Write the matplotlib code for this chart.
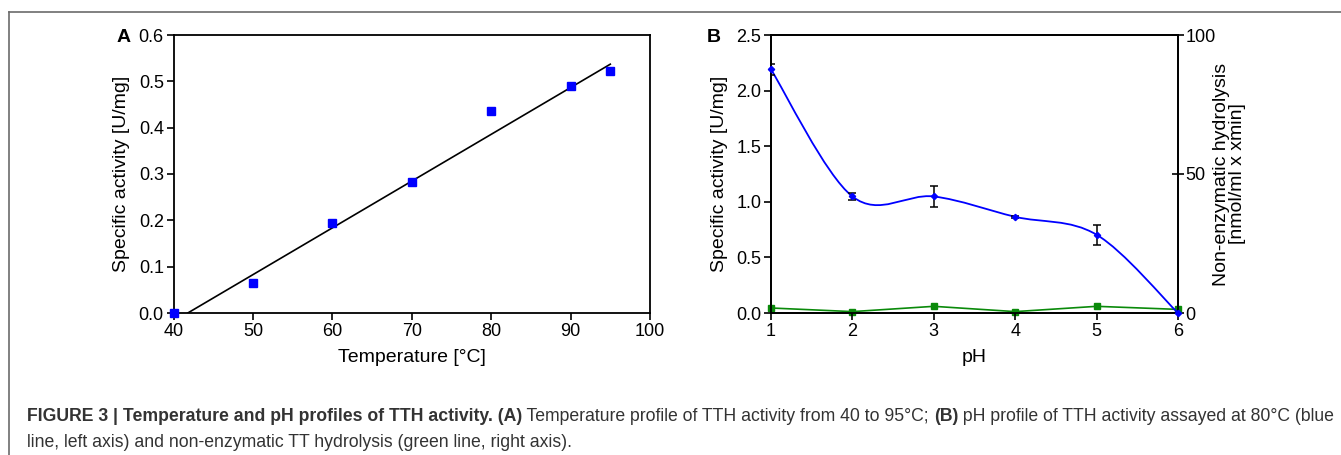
import matplotlib
matplotlib.use("Agg")
import matplotlib.pyplot as plt
from matplotlib.path import Path
from matplotlib.patches import PathPatch
from matplotlib.lines import Line2D
import numpy as np

# ---------------- data ----------------
temp_c = [40, 50, 60, 70, 80, 90, 95]
temp_activity = [0.0, 0.064, 0.195, 0.283, 0.436, 0.489, 0.523]
fit_x = [41.8, 95.0]
fit_y = [0.0, 0.537]

ph = [1, 2, 3, 4, 5, 6]
ph_activity = [2.19, 1.048, 1.048, 0.865, 0.704, 0.0]
ph_err = [0.05, 0.03, 0.095, 0.01, 0.09, 0.0]
nonenz = [1.8, 0.5, 2.4, 0.5, 2.4, 1.3]

a_xticks = [40, 50, 60, 70, 80, 90, 100]
a_yticks = [0.0, 0.1, 0.2, 0.3, 0.4, 0.5, 0.6]
b_yticks = [0.0, 0.5, 1.0, 1.5, 2.0, 2.5]
b_y2ticks = [0, 50, 100]

W, H = 1341, 455
fig = plt.figure(figsize=(W / 100, H / 100), dpi=100)
plt.rcParams['font.family'] = ['Liberation Sans', 'DejaVu Sans']

def ax_rect(l, r, t, b):
    return [l / W, (H - b) / H, (r - l) / W, (b - t) / H]

TFS = 13.0   # tick labels
LFS = 14.0   # axis labels
BLUE = '#0000ff'
GREEN = '#0a8a0a'

# ---------------- panel A ----------------
axA = fig.add_axes(ax_rect(173.5, 650, 35, 313))
axA.plot(fit_x, fit_y, color='black', lw=1.2, zorder=2)
axA.plot(temp_c, temp_activity, linestyle='none', marker='s', ms=5.5,
         color=BLUE, mec=BLUE, zorder=3, clip_on=False)
axA.set_xlim(40, 100)
axA.set_ylim(0, 0.6)
axA.set_xticks(a_xticks)
axA.set_yticks(a_yticks)
axA.set_yticklabels([f"{v:.1f}" for v in a_yticks])
axA.tick_params(direction='out', length=5, width=1.2, labelsize=TFS, pad=2,
                top=False, right=False)
for s in axA.spines.values():
    s.set_linewidth(1.3)
axA.set_xlabel("Temperature [°C]", fontsize=LFS, labelpad=7)
axA.set_ylabel("Specific activity [U/mg]", fontsize=LFS, labelpad=6)
fig.text(117 / W, 1 - 37 / H, "A", fontsize=14, fontweight='bold',
         ha='left', va='center')

# ---------------- panel B ----------------
axB = fig.add_axes(ax_rect(771, 1178, 35, 313))
axB.set_xlim(1, 6)
axB.set_ylim(0, 2.5)

# smooth curve (Catmull-Rom style cubic Bezier segments through the points)
pts = np.column_stack([ph, ph_activity]).astype(float)
n = len(pts)
verts = [tuple(pts[0])]
codes = [Path.MOVETO]
for i in range(n - 1):
    p0 = pts[i - 1] if i > 0 else pts[i]
    p1 = pts[i]
    p2 = pts[i + 1]
    p3 = pts[i + 2] if i + 2 < n else pts[i + 1]
    c1 = p1 + (p2 - p0) / 6.0
    c2 = p2 - (p3 - p1) / 6.0
    verts += [tuple(c1), tuple(c2), tuple(p2)]
    codes += [Path.CURVE4] * 3
axB.add_patch(PathPatch(Path(verts, codes), facecolor='none', edgecolor=BLUE,
                        lw=1.3, zorder=3))
axB.errorbar(ph, ph_activity, yerr=ph_err, fmt='none', ecolor='black',
             elinewidth=1.1, capsize=3, capthick=1.1, zorder=4)
axB.plot(ph, ph_activity, linestyle='none', marker='D', ms=3.2, color=BLUE,
         zorder=5, clip_on=False)
axB.set_xticks(ph)
axB.set_yticks(b_yticks)
axB.set_yticklabels([f"{v:.1f}" for v in b_yticks])
axB.tick_params(direction='out', length=5, width=1.2, labelsize=TFS, pad=2,
                top=False, right=False)
for s in axB.spines.values():
    s.set_linewidth(1.3)
axB.set_xlabel("pH", fontsize=LFS, labelpad=7)
axB.set_ylabel("Specific activity [U/mg]", fontsize=LFS, labelpad=6)

axB2 = axB.twinx()
axB2.set_ylim(0, 100)
axB2.plot(ph, nonenz, color=GREEN, lw=1.2, marker='s', ms=5, mec=GREEN,
          zorder=3, clip_on=False)
axB2.set_yticks(b_y2ticks)
axB2.tick_params(direction='inout', length=9, width=1.2, labelsize=TFS, pad=1)
for s in axB2.spines.values():
    s.set_linewidth(1.3)
axB2.set_ylabel("Non-enzymatic hydrolysis\n[nmol/ml x xmin]",
                fontsize=LFS, labelpad=-2, linespacing=0.95)
axB.set_zorder(axB2.get_zorder() + 1)
axB.patch.set_visible(False)

fig.text(707 / W, 1 - 37 / H, "B", fontsize=14, fontweight='bold',
         ha='left', va='center')

# ---------------- frame ----------------
frame_col = '#6b6b6b'
fig.add_artist(Line2D([9 / W, 1.0], [1 - 12 / H, 1 - 12 / H],
                      transform=fig.transFigure, color=frame_col, lw=1.2))
fig.add_artist(Line2D([9 / W, 9 / W], [1 - 12 / H, 0.0],
                      transform=fig.transFigure, color=frame_col, lw=1.2))

# ---------------- caption ----------------
cap_family = ['Liberation Sans', 'DejaVu Sans']
line1 = [
    ("FIGURE 3 | Temperature and pH profiles of TTH activity. (A)", 'bold'),
    (" Temperature profile of TTH activity from 40 to 95°C; ", 'normal'),
    ("(B)", 'bold'),
    (" pH profile of TTH activity assayed at 80°C (blue", 'normal'),
]
line2 = [("line, left axis) and non-enzymatic TT hydrolysis (green line, right axis).", 'normal')]

fig.canvas.draw()
renderer = fig.canvas.get_renderer()

def measure(parts, fs):
    total = 0
    for txt, wt in parts:
        t = fig.text(0, 0, txt, fontsize=fs, fontweight=wt, family=cap_family)
        total += t.get_window_extent(renderer=renderer).width
        t.remove()
    return total

base_fs = 10.0
cap_fs = base_fs * 1307.0 / measure(line1, base_fs)

def draw_line(parts, x0, y0):
    x = x0
    for txt, wt in parts:
        t = fig.text(x / W, 1 - y0 / H, txt, fontsize=cap_fs, fontweight=wt,
                     family=cap_family, color='#333333', ha='left',
                     va='baseline')
        bb = t.get_window_extent(renderer=renderer)
        x += bb.width

draw_line(line1, 27, 421)
draw_line(line2, 27, 447)

fig.savefig("out.png", dpi=100)
